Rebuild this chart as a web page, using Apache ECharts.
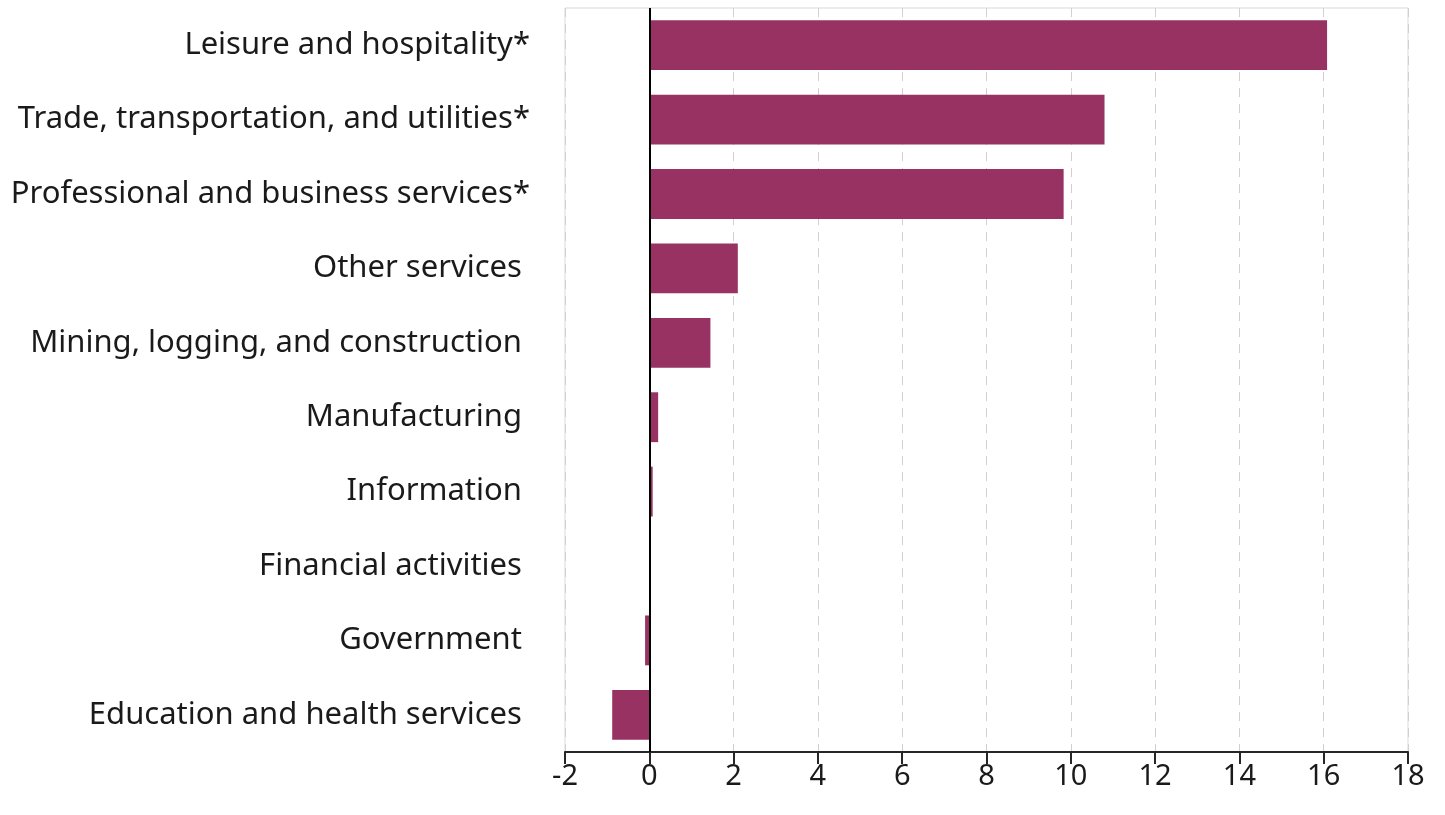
<!DOCTYPE html>
<html>
<head>
<meta charset="utf-8">
<script src="https://cdn.jsdelivr.net/npm/echarts@6/dist/echarts.min.js"></script>
<style>
  html, body { margin: 0; padding: 0; background: #fff; }
  #chart { width: 1445px; height: 815px; }
</style>
</head>
<body>
<div id="chart"></div>
<script>
// categories listed bottom to top (ECharts category y axis starts at the bottom)
const categories = [
    'Education and health services ',
    'Government ',
    'Financial activities ',
    'Information ',
    'Manufacturing ',
    'Mining, logging, and construction ',
    'Other services ',
    'Professional and business services*',
    'Trade, transportation, and utilities*',
    'Leisure and hospitality*'
];
const values = [-0.88, -0.1, 0, 0.08, 0.21, 1.45, 2.1, 9.83, 10.8, 16.08];
const xTicks = [-2, 18, 2];  // min, max, interval

const chart = echarts.init(document.getElementById('chart'));

const option = {
    animation: false,
    grid: {
        left: 565,
        right: 37,
        top: 8,
        bottom: 63,
        show: true,
        borderColor: '#d9d9d9',
        borderWidth: 1
    },
    xAxis: {
        type: 'value',
        min: xTicks[0],
        max: xTicks[1],
        interval: xTicks[2],
        axisLine: { show: true, onZero: false, lineStyle: { color: '#262626', width: 2 } },
        axisTick: { show: true, inside: false, length: 12, lineStyle: { color: '#262626', width: 2 } },
        axisLabel: {
            margin: 10,
            fontFamily: 'Noto Sans',
            fontSize: 29,
            color: '#1a1a1a'
        },
        splitLine: { show: true, lineStyle: { color: '#d8cdd3', type: [9, 7], width: 1 } }
    },
    yAxis: {
        type: 'category',
        data: categories,
        axisLine: { show: false, onZero: false },
        axisTick: { show: false },
        axisLabel: {
            margin: 35,
            padding: [8, 0, 0, 0],
            fontFamily: 'Noto Sans',
            fontSize: 31,
            color: '#1a1a1a'
        }
    },
    series: [{
        type: 'bar',
        data: values,
        barCategoryGap: '33%',
        itemStyle: { color: '#983263' },
        markLine: {
            silent: true,
            symbol: 'none',
            label: { show: false },
            lineStyle: { color: '#000', type: 'solid', width: 2 },
            data: [{ xAxis: 0 }]
        }
    }]
};

chart.setOption(option);
window.addEventListener('resize', () => chart.resize());
</script>
</body>
</html>
